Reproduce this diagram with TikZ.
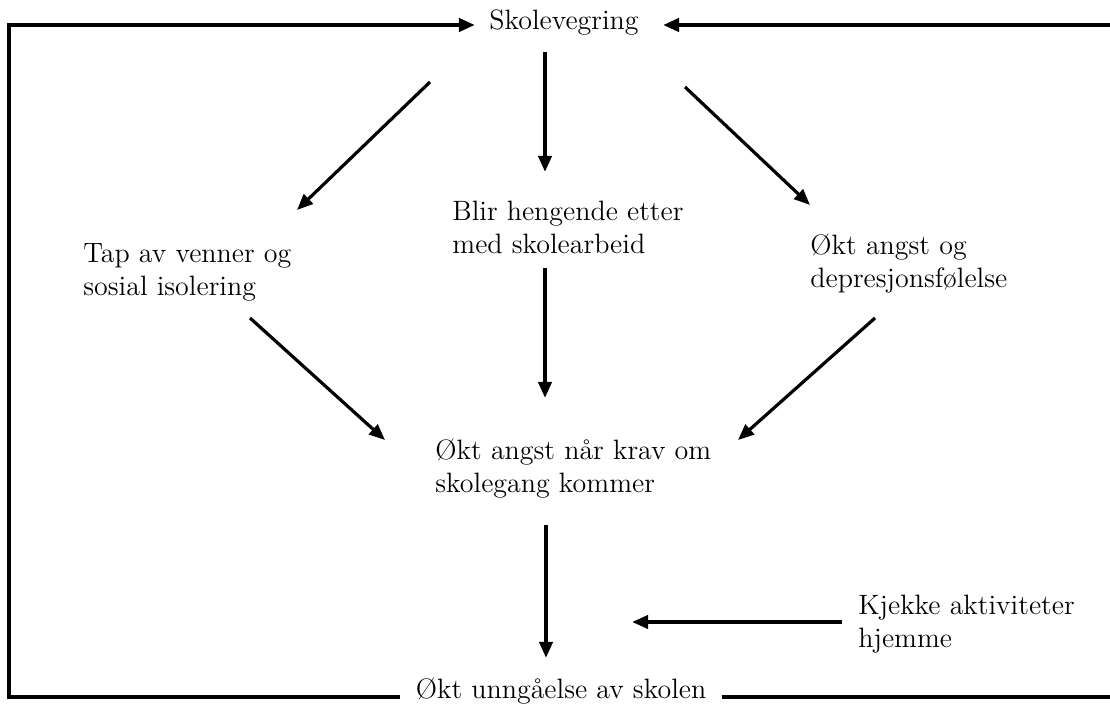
\documentclass[tikz,border=0pt]{standalone}
\usetikzlibrary{arrows.meta}
\tikzset{
  tekst/.style={inner sep=0pt, align=left, font=\fontsize{14}{16.5}\selectfont},
  pil/.style={line width=1.9pt, -{Triangle[length=8pt,width=6.5pt]}},
  skraa/.style={pil, line width=1.6pt},
}
\begin{document}
\begin{tikzpicture}[x=0.5pt, y=-0.5pt]
  \useasboundingbox (0,0) rectangle (1110,704);
  \clip (0,0) rectangle (1110,704);

  % Top node
  \node [tekst] (skole) at (564,23) {Skolevegring};

  % Three consequences
  \node [tekst, anchor=west] (tap) at (83,272) {Tap av venner og\\sosial isolering};
  \node [tekst, anchor=west] (blir) at (452,227) {Blir hengende etter\\med skolearbeid};
  \node [tekst, anchor=west] (angst) at (810,264) {Økt angst og\\depresjonsfølelse};

  % Middle and bottom
  \node [tekst, anchor=west] (krav) at (435,469) {Økt angst når krav om\\skolegang kommer};
  \node [tekst, anchor=west] (kjekke) at (858,624) {Kjekke aktiviteter\\hjemme};
  \node [tekst] (unngaa) at (561,691) {Økt unngåelse av skolen};

  % Arrows from Skolevegring
  \draw [skraa] ([shift={(-134,59)}]skole.center) -- ([shift={(214,-62)}]tap.west);
  \draw [pil] ([shift={(-19,29)}]skole.center) -- ([shift={(93,-55)}]blir.west);
  \draw [skraa] ([shift={(121,64)}]skole.center) -- ([shift={(0,-59)}]angst.west);

  % Arrows into the middle node
  \draw [skraa] ([shift={(167,46)}]tap.west) -- ([shift={(-50,-29)}]krav.west);
  \draw [pil] ([shift={(93,41)}]blir.west) -- ([shift={(110,-71)}]krav.west);
  \draw [skraa] ([shift={(65,54)}]angst.west) -- ([shift={(303,-29)}]krav.west);

  % Arrows into the bottom node
  \draw [pil] ([shift={(111,56)}]krav.west) -- ([shift={(-15,-33)}]unngaa.center);
  \draw [pil] ([shift={(-16,-2)}]kjekke.west) -- ([shift={(71,-69)}]unngaa.center);

  % Feedback loop round the outside
  \draw [pil, line width=2pt] ([shift={(-15,6)}]unngaa.west) -| (9,25) -- ([shift={(-14,2)}]skole.west);
  \draw [pil, line width=2pt] ([shift={(15,6)}]unngaa.east) -| (1125,25) -- ([shift={(24,2)}]skole.east);
\end{tikzpicture}
\end{document}
